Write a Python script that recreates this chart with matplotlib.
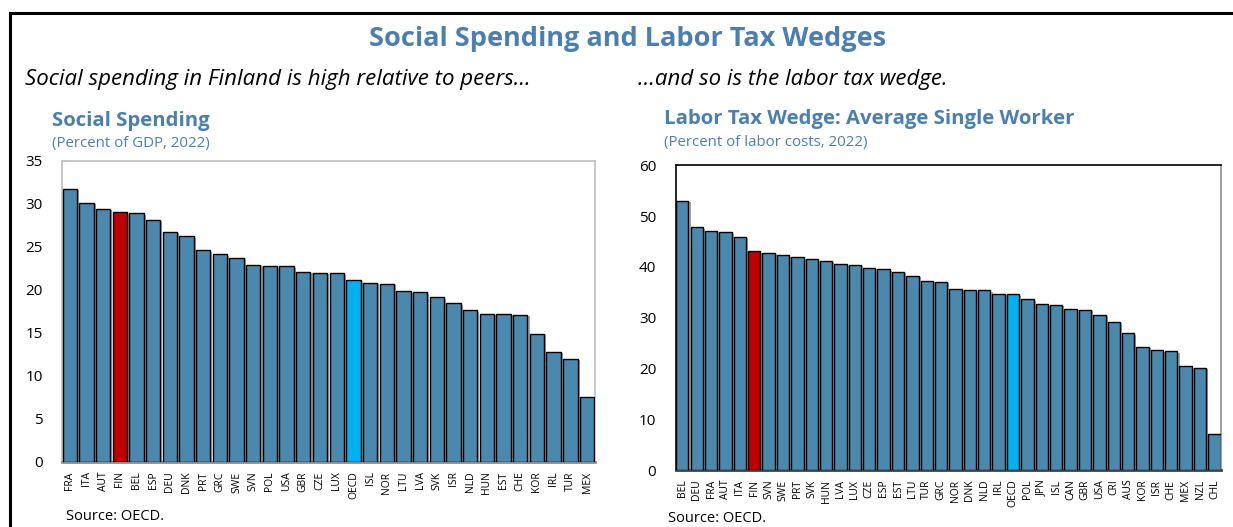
import matplotlib
matplotlib.use("Agg")
import matplotlib.pyplot as plt
import matplotlib.patheffects as pe
from matplotlib.lines import Line2D

plt.rcParams['font.family'] = ['Open Sans', 'Noto Sans', 'DejaVu Sans']

# Social spending, percent of GDP, 2022
spend_countries = ["FRA", "ITA", "AUT", "FIN", "BEL", "ESP", "DEU", "DNK", "PRT", "GRC",
                   "SWE", "SVN", "POL", "USA", "GBR", "CZE", "LUX", "OECD", "ISL", "NOR",
                   "LTU", "LVA", "SVK", "ISR", "NLD", "HUN", "EST", "CHE", "KOR", "IRL",
                   "TUR", "MEX"]
spend_values = [31.7, 30.1, 29.4, 29.0, 28.9, 28.1, 26.7, 26.2, 24.6, 24.1,
                23.7, 22.9, 22.7, 22.7, 22.1, 22.0, 21.9, 21.1, 20.8, 20.7,
                19.8, 19.7, 19.1, 18.4, 17.6, 17.2, 17.2, 17.1, 14.9, 12.8,
                12.0, 7.5]

# Labor tax wedge, average single worker, percent of labor costs, 2022
wedge_countries = ["BEL", "DEU", "FRA", "AUT", "ITA", "FIN", "SVN", "SWE", "PRT", "SVK",
                   "HUN", "LVA", "LUX", "CZE", "ESP", "EST", "LTU", "TUR", "GRC", "NOR",
                   "DNK", "NLD", "IRL", "OECD", "POL", "JPN", "ISL", "CAN", "GBR", "USA",
                   "CRI", "AUS", "KOR", "ISR", "CHE", "MEX", "NZL", "CHL"]
wedge_values = [53.0, 47.8, 47.0, 46.8, 45.9, 43.1, 42.8, 42.3, 41.9, 41.5,
                41.2, 40.5, 40.4, 39.8, 39.5, 39.0, 38.2, 37.2, 37.0, 35.7,
                35.4, 35.4, 34.7, 34.6, 33.6, 32.6, 32.5, 31.8, 31.5, 30.5,
                29.2, 26.9, 24.2, 23.6, 23.4, 20.4, 20.1, 7.0]

spend_ticks = [0, 5, 10, 15, 20, 25, 30, 35]
wedge_ticks = [0, 10, 20, 30, 40, 50, 60]

BLUE = "#4a89ad"
RED = "#c00000"
CYAN = "#00b0f0"
TITLE = "#4a7fb0"

W, H = 1233, 527
fig = plt.figure(figsize=(W / 100, H / 100), dpi=100)


def px(x0, y0, x1, y1):
    return [x0 / W, 1 - y1 / H, (x1 - x0) / W, (y1 - y0) / H]


# Outer frame (left and top rules)
fig.add_artist(Line2D([10 / W, 10 / W], [0, 1 - 13 / H], transform=fig.transFigure,
                      color="black", lw=2.2))
fig.add_artist(Line2D([10 / W, 1], [1 - 13 / H, 1 - 13 / H], transform=fig.transFigure,
                      color="black", lw=2.2))

fig.text(628 / W, 1 - 39 / H, "Social Spending and Labor Tax Wedges", ha="center",
         va="center", fontsize=19.5, fontweight="bold", color=TITLE)
fig.text(25 / W, 1 - 80 / H, "Social spending in Finland is high relative to peers…",
         ha="left", va="center", fontsize=16, style="italic", color="black")
fig.text(638 / W, 1 - 80 / H, "…and so is the labor tax wedge.",
         ha="left", va="center", fontsize=16, style="italic", color="black")


def bar_panel(rect, cats, vals, ticks, title, sub, tx, spine_cols):
    ax = fig.add_axes(rect)
    colors = [RED if c == "FIN" else CYAN if c == "OECD" else BLUE for c in cats]
    x = list(range(len(cats)))
    bars = ax.bar(x, vals, width=0.86, color=colors, edgecolor="black", linewidth=1.0,
                  zorder=3)
    for b in bars:
        b.set_path_effects([pe.SimplePatchShadow(offset=(1.5, -1.0),
                                                 shadow_rgbFace="#7f7f7f", alpha=0.7),
                            pe.Normal()])
    ax.set_xlim(-0.46, len(cats) - 0.54)
    ax.set_ylim(ticks[0], ticks[-1])
    ax.set_yticks(ticks)
    ax.set_yticklabels([str(t) for t in ticks], fontsize=11)
    ax.set_xticks(x)
    ax.set_xticklabels(cats, rotation=90, fontsize=7.5)
    ax.tick_params(axis="y", direction="in", length=3, color="#bfbfbf", pad=14)
    ax.tick_params(axis="x", length=0, pad=7)
    for side, col in spine_cols.items():
        ax.spines[side].set_color(col)
        ax.spines[side].set_linewidth(1.2)
    ax.spines["bottom"].set_linewidth(2.0)
    ax.set_facecolor("white")
    fig.text(tx[0] / W, 1 - tx[1] / H, title, ha="left", va="center", fontsize=14.7,
             fontweight="bold", color=TITLE)
    fig.text(tx[0] / W, 1 - (tx[1] + 23) / H, sub, ha="left", va="center", fontsize=10.8,
             color=TITLE)
    return ax


bar_panel(px(62, 160.7, 594.7, 461.7), spend_countries, spend_values, spend_ticks,
          "Social Spending", "(Percent of GDP, 2022)", (52, 121),
          {"left": "#bfbfbf", "top": "#bfbfbf", "right": "#bfbfbf", "bottom": "#8c8c8c"})
bar_panel(px(675.7, 165.3, 1221, 470), wedge_countries, wedge_values, wedge_ticks,
          "Labor Tax Wedge: Average Single Worker", "(Percent of labor costs, 2022)",
          (664, 119),
          {"left": "black", "top": "black", "right": "#8c8c8c", "bottom": "#404040"})

fig.text(66 / W, 1 - 517 / H, "Source: OECD.", ha="left", va="center", fontsize=10.5)
fig.text(668 / W, 1 - 519 / H, "Source: OECD.", ha="left", va="center", fontsize=10.5)

fig.savefig("out.png", dpi=100)
